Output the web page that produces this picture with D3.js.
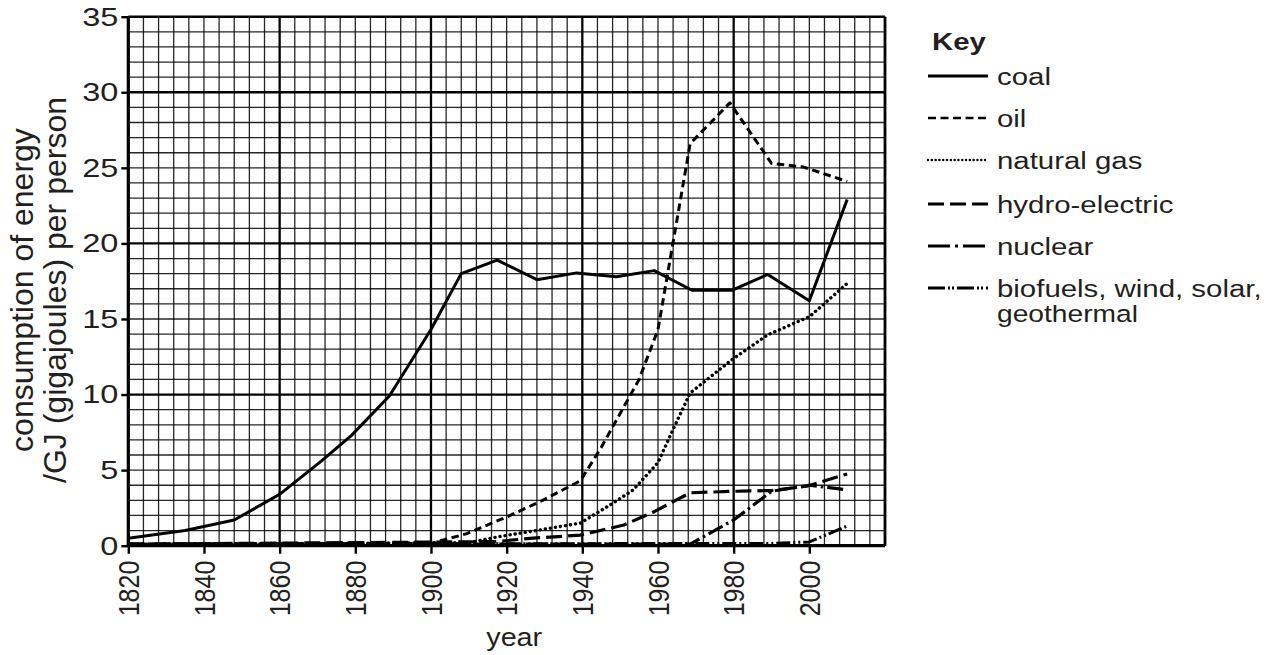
<!DOCTYPE html>
<html>
<head>
<meta charset="utf-8">
<script src="https://cdn.jsdelivr.net/npm/d3@7/dist/d3.min.js"></script>
<style>
  body { margin: 0; background: #fff; }
  text { font-family: "Liberation Sans", Arial, sans-serif; fill: #231f20; }
</style>
</head>
<body>
<div id="chart"></div>
<script>
// valeurs : [année, GJ par personne]
var coal = [[1820,0.5],[1835,1.0],[1848,1.7],[1860,3.4],[1871,5.6],[1879,7.3],[1889,9.9],[1894.5,12.1],
            [1900,14.3],[1908,18.0],[1917.5,18.9],[1928,17.6],[1938.5,18.05],[1949,17.8],[1959,18.2],
            [1969,16.9],[1979.5,16.9],[1989,17.95],[2000,16.2],[2010,22.9]];
var oil = [[1820,0.1],[1900,0.15],[1909.5,0.8],[1920,1.9],[1929.5,3.0],[1939.5,4.3],[1945,6.5],[1949,8.3],
           [1955,11.0],[1960,14.3],[1968.5,26.6],[1979,29.3],[1990,25.3],[1998.5,25.05],[2010,24.1]];
var naturalGas = [[1820,0.1],[1910,0.2],[1918,0.6],[1929,1.05],[1939.5,1.5],[1948,2.8],[1953.5,3.7],
                  [1960,5.5],[1964,7.7],[1968.5,10.1],[1979.5,12.3],[1989,13.95],[2000,15.15],[2010,17.35]];
var hydro = [[1820,0.1],[1917,0.27],[1927,0.5],[1939.5,0.7],[1951,1.37],[1959,2.25],[1968.5,3.5],
             [1980,3.6],[1990,3.65],[1999.5,3.95],[2010,4.75]];
var nuclear = [[1820,0.1],[1968.5,0.1],[1980,1.7],[1990,3.6],[2000,4.0],[2010,3.7]];
var renewables = [[1820,0.1],[1990,0.15],[2000,0.25],[2010,1.3]];

var yTicks = [0,5,10,15,20,25,30,35];
var xTicks = [1820,1840,1860,1880,1900,1920,1940,1960,1980,2000];

var keyLabels = ['coal','oil','natural gas','hydro-electric','nuclear',['biofuels, wind, solar,','geothermal']];
var seriesList = [coal, oil, naturalGas, hydro, nuclear, renewables];

// styles de trait (graphique / légende)
var styles = [
  {dash: null,           key: null,            w: 3.0, keyW: 3.0, cap: 'butt'},
  {dash: '7.5,4.5',      key: '8,4.5',         w: 3.0, keyW: 2.4, cap: 'butt'},
  {dash: '0.1,5',        key: '0.1,3.7',       w: 3.4, keyW: 2.4, cap: 'round'},
  {dash: '16,6',         key: '16,6',          w: 3.2, keyW: 3.0, cap: 'butt'},
  {dash: '16,4,2.5,4',   key: '22,5,3,5',      w: 3.2, keyW: 3.0, cap: 'butt'},
  {dash: '14,3,2,3,2,3', key: '17,3,2,2,2,3',  w: 3.0, keyW: 3.0, cap: 'butt'}
];

var W = 1274, H = 655;
var x = d3.scaleLinear().domain([1820, 2020]).range([128.3, 885]);
var y = d3.scaleLinear().domain([0, 35]).range([545.7, 16.7]);

var svg = d3.select('#chart').append('svg').attr('width', W).attr('height', H);

// quadrillage
var grid = svg.append('g');
d3.range(1820, 2021, 4).forEach(function (yr) {
  var major = (yr - 1820) % 40 === 0;
  grid.append('line')
    .attr('x1', x(yr)).attr('x2', x(yr)).attr('y1', y(0)).attr('y2', y(35))
    .attr('stroke', '#000').attr('stroke-width', major ? 2.3 : 1.3)
    .attr('stroke-opacity', major ? 1 : 0.85);
});
d3.range(0, 36, 1).forEach(function (v) {
  var major = v % 10 === 0;
  grid.append('line')
    .attr('x1', x(1820)).attr('x2', x(2020)).attr('y1', y(v)).attr('y2', y(v))
    .attr('stroke', '#000').attr('stroke-width', major ? 2.3 : 1.3)
    .attr('stroke-opacity', major ? 1 : 0.85);
});

// cadre
svg.append('line').attr('x1', x(2020)).attr('x2', x(2020)).attr('y1', y(0)).attr('y2', y(35))
  .attr('stroke', '#000').attr('stroke-width', 2.6);
svg.append('line').attr('x1', x(1820)).attr('x2', x(2020)).attr('y1', y(35)).attr('y2', y(35))
  .attr('stroke', '#000').attr('stroke-width', 2.4);

// axes
var yAxis = svg.append('g').attr('transform', 'translate(' + x(1820) + ',0)')
  .call(d3.axisLeft(y).tickValues(yTicks).tickSize(7).tickPadding(3));
var xAxis = svg.append('g').attr('transform', 'translate(0,' + y(0) + ')')
  .call(d3.axisBottom(x).tickValues(xTicks).tickSize(8).tickFormat(d3.format('d')));

[yAxis, xAxis].forEach(function (a) {
  a.select('.domain').attr('stroke', '#000').attr('stroke-width', 3.2);
  a.selectAll('.tick line').attr('stroke', '#000').attr('stroke-width', 2.4);
  a.selectAll('.tick text').attr('fill', '#231f20');
});
xAxis.select('.domain').attr('d', 'M' + x(1820) + ',0H' + x(2020));
yAxis.select('.domain').attr('d', 'M0,' + y(0) + 'V' + y(35));

// étiquettes Y un peu élargies, comme sur l'original
yAxis.selectAll('.tick text')
  .style('font-size', '26px')
  .attr('x', -10 / 1.25)
  .attr('transform', 'scale(1.25,1)');
xAxis.selectAll('.tick text')
  .style('font-size', '25px')
  .attr('transform', 'scale(1.15,1) rotate(-90)')
  .attr('x', -15).attr('y', 0).attr('dy', '0.35em')
  .style('text-anchor', 'end');

// courbes
var line = d3.line().x(function (d) { return x(d[0]); }).y(function (d) { return y(d[1]); });
seriesList.forEach(function (s, i) {
  var st = styles[i];
  svg.append('path').datum(s)
    .attr('d', line)
    .attr('fill', 'none').attr('stroke', '#000')
    .attr('stroke-width', st.w)
    .attr('stroke-linecap', st.cap)
    .attr('stroke-linejoin', 'round')
    .attr('stroke-dasharray', st.dash);
});

// titres des axes
svg.append('text').attr('transform', 'translate(' + x(1922) + ',646) scale(1.15,1)')
  .attr('text-anchor', 'middle').style('font-size', '25px').text('year');
var yl = svg.append('text').attr('transform', 'translate(0,290) rotate(-90)')
  .attr('text-anchor', 'middle').style('font-size', '32px');
yl.append('tspan').attr('x', 0).attr('y', 33).text('consumption of energy');
yl.append('tspan').attr('x', 0).attr('y', 66).text('/GJ (gigajoules) per person');

// légende
var kx = 1.2;
svg.append('text').attr('transform', 'translate(932,50) scale(' + kx + ',1)')
  .style('font-size', '24.5px').style('font-weight', 'bold').text('Key');
var keyY = [76, 118, 160, 204, 246, 288];
keyLabels.forEach(function (lab, i) {
  var st = styles[i];
  svg.append('line').attr('x1', 928).attr('x2', 988).attr('y1', keyY[i]).attr('y2', keyY[i])
    .attr('stroke', '#000').attr('stroke-width', st.keyW)
    .attr('stroke-linecap', st.cap)
    .attr('stroke-dasharray', st.key);
  var lines = Array.isArray(lab) ? lab : [lab];
  lines.forEach(function (txt, k) {
    svg.append('text')
      .attr('transform', 'translate(997,' + (keyY[i] + 8.5 + k * 25) + ') scale(' + kx + ',1)')
      .style('font-size', k ? '23.5px' : '24.5px')
      .text(txt);
  });
});
</script>
</body>
</html>
